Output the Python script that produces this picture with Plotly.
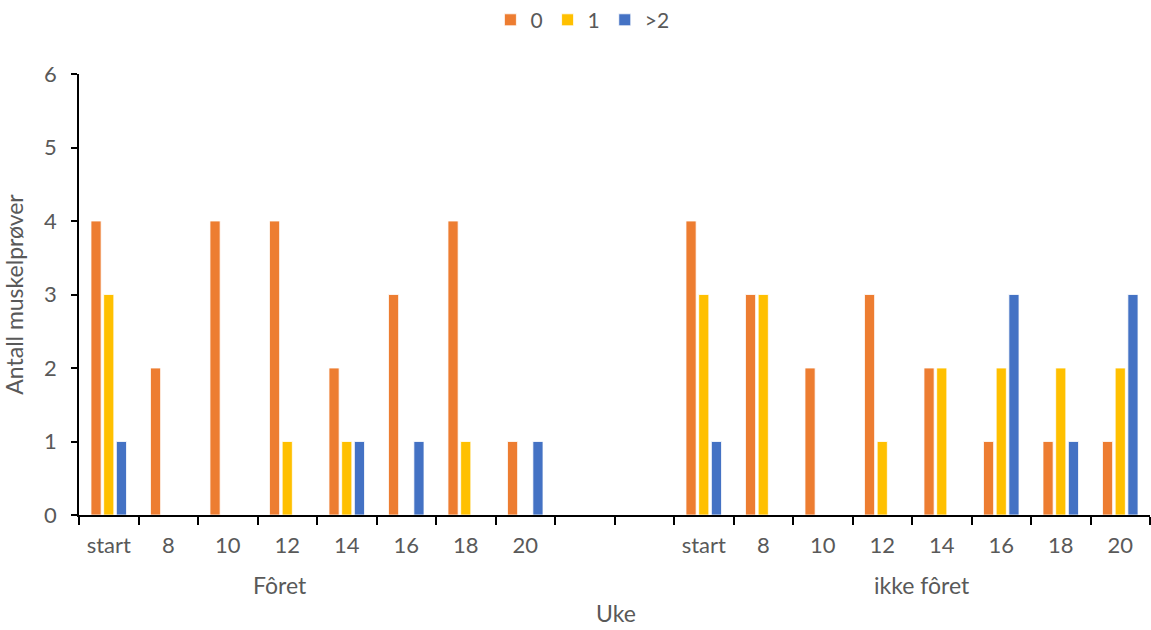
import plotly.graph_objects as go

groups = ["Fôret"] * 8 + ["", ""] + ["ikke fôret"] * 8
weeks = ["start", "8", "10", "12", "14", "16", "18", "20", "", "",
         "start", "8", "10", "12", "14", "16", "18", "20"]

s0 = [4, 2, 4, 4, 2, 3, 4, 1, 0, 0, 4, 3, 2, 3, 2, 1, 1, 1]
s1 = [3, 0, 0, 1, 1, 0, 1, 0, 0, 0, 3, 3, 0, 1, 2, 2, 2, 2]
s2 = [1, 0, 0, 0, 1, 1, 0, 1, 0, 0, 1, 0, 0, 0, 0, 3, 1, 3]

series_names = ["0", "1", ">2"]
colors = ["#ED7D31", "#FFC000", "#4472C4"]

keys = [f"{g}|{w}|{i}" for i, (g, w) in enumerate(zip(groups, weeks))]

fig = go.Figure()
for name, vals, col in zip(series_names, [s0, s1, s2], colors):
    fig.add_trace(go.Bar(x=keys, y=vals, name=name,
                         marker=dict(color=col, line=dict(color="white", width=0.8))))

font_family = "Lato, Open Sans, sans-serif"
grey = "#595959"
fs = 22

fig.update_layout(
    width=1151, height=630, autosize=False,
    paper_bgcolor="white", plot_bgcolor="white",
    margin=dict(l=79, r=1, t=74, b=115, autoexpand=False),
    barmode="group", bargap=0.36, bargroupgap=0.2,
    font=dict(family=font_family, color=grey, size=fs),
    legend=dict(orientation="h", x=0.506, xanchor="center", xref="container",
                y=0.968, yanchor="middle", yref="container",
                font=dict(size=21, color=grey),
                itemwidth=30, tracegroupgap=0),
    showlegend=True,
)
fig.update_xaxes(
    type="category", categoryorder="array", categoryarray=keys,
    tickmode="array", tickvals=keys, ticktext=weeks,
    tickson="boundaries", ticks="outside", ticklen=8, tickwidth=1.5, tickcolor="black",
    showline=True, linecolor="black", linewidth=1.5,
    showgrid=False, zeroline=False, automargin=False,
    tickfont=dict(size=fs, color=grey),
    ticklabelstandoff=10,
)
fig.update_yaxes(
    range=[0, 6], dtick=1, ticks="outside", ticklen=6, tickwidth=1.5, tickcolor="black",
    showline=True, linecolor="black", linewidth=1.5,
    showgrid=False, zeroline=False, automargin=False,
    tickfont=dict(size=fs, color=grey), ticklabelstandoff=10,
    title=dict(text="Antall muskelprøver", font=dict(size=23, color=grey), standoff=14),
)

fig.add_annotation(x=2.88, y=-0.158, xref="x", yref="paper", text="Fôret",
                   showarrow=False, font=dict(size=23, color=grey), yanchor="middle")
fig.add_annotation(x=13.67, y=-0.158, xref="x", yref="paper", text="ikke fôret",
                   showarrow=False, font=dict(size=23, color=grey), yanchor="middle")
fig.add_annotation(x=(616 - 79) / 1071, y=-0.222, xref="paper", yref="paper", text="Uke",
                   showarrow=False, font=dict(size=23, color=grey), yanchor="middle")

post = ("document.body.style.margin='0';document.body.style.overflow='hidden';"
        "window.dispatchEvent(new Event('resize'));")
fig.write_html("out.html", post_script=post, config={"displayModeBar": False})
